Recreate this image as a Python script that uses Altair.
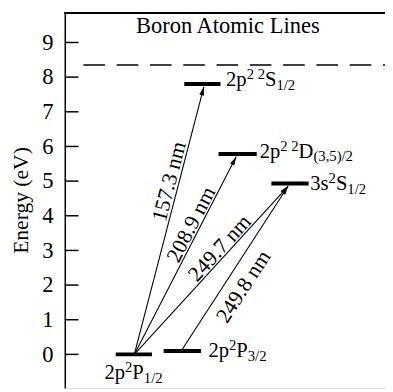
import math
import altair as alt
import pandas as pd

# ---------------- data ----------------
tick_values = [0, 1, 2, 3, 4, 5, 6, 7, 8, 9]

level_energy = [0.0, 0.10, 4.93, 5.78, 7.80]
level_x_start = [52, 101, 211, 157, 122]
level_x_end = [89, 139, 249, 196, 159]

label_main1 = ["2p", "2p", "3s", "2p", "2p"]
label_sup = ["2", "2", "2", "2 2", "2 2"]
label_main2 = ["P", "P", "S", "D", "S"]
label_sub = ["1/2", "3/2", "1/2", "(3,5)/2", "1/2"]
label_x = [40.5, 146.7, 250.7, 199.0, 164.7]
label_y = [-0.715, -0.065, 4.74, 5.68, 7.74]

transition_text = ["157.3 nm", "208.9 nm", "249.7 nm", "249.8 nm"]
trans_x0 = [71, 71, 71, 120]
trans_y0 = [0.0, 0.0, 0.0, 0.15]
trans_x1 = [142, 175, 228, 228]
trans_y1 = [7.72, 5.70, 4.85, 4.85]
trans_label_x = [106.5, 129.0, 158.0, 182.4]
trans_label_y = [4.99, 3.75, 3.07, 1.96]

ionization_energy = 8.35
dash_x_start = 19

title_text = "Boron Atomic Lines"
title_x = 166.5
title_y = 9.26

# ---------------- layout ----------------
W, H = 327, 384
X_DOM = [0, 327]
Y_DOM = [-0.97, 9.88]
XPX = W / (X_DOM[1] - X_DOM[0])
YPX = H / (Y_DOM[1] - Y_DOM[0])
FONT = "Liberation Serif"
F_MAIN = 21
F_SMALL = 15
F_TRANS = 22

# Times-like advance widths (em)
ADV = {c: 0.5 for c in "0123456789"}
ADV.update({"p": 0.5, "s": 0.389, "P": 0.556, "S": 0.556, "D": 0.722, "(": 0.333,
            ")": 0.333, ",": 0.25, "/": 0.278, " ": 0.25})


def tw(s, size):
    return sum(ADV.get(c, 0.5) for c in s) * size / XPX


xs = alt.Scale(domain=X_DOM, nice=False, zero=False)
ys = alt.Scale(domain=Y_DOM, nice=False, zero=False)
YAX = alt.Axis(
    values=tick_values, ticks=False, tickSize=0, grid=False, domain=True,
    domainColor="black", domainWidth=1.5, labelFont=FONT, labelFontSize=23,
    labelColor="black", labelPadding=12, title="Energy (eV)", titleFont=FONT,
    titleFontSize=22, titleFontWeight="normal", titleColor="black", titlePadding=10)


def Y(field):
    return alt.Y(field, scale=ys, axis=YAX)


def X(field):
    return alt.X(field, scale=xs, axis=None)


# ---------------- tables ----------------
ticks_df = pd.DataFrame({"y": tick_values})
levels_df = pd.DataFrame({"x": level_x_start, "x2": level_x_end, "y": level_energy})

pieces = []
for i in range(len(label_main1)):
    x = label_x[i]
    for txt, kind, size in [(label_main1[i], "main", F_MAIN), (label_sup[i], "sup", F_SMALL),
                            (label_main2[i], "main", F_MAIN), (label_sub[i], "sub", F_SMALL)]:
        pieces.append({"x": x, "y": label_y[i], "t": txt, "kind": kind})
        x += tw(txt, size)
pieces_df = pd.DataFrame(pieces)

trans_rows = []
for i in range(len(transition_text)):
    dxp = (trans_x1[i] - trans_x0[i]) * XPX
    dyp = (trans_y1[i] - trans_y0[i]) * YPX
    text_ang = (-math.degrees(math.atan2(dyp, dxp))) % 360
    head_ang = math.degrees(math.atan2(dxp, dyp)) % 360
    trans_rows.append({"x": trans_x0[i], "y": trans_y0[i], "x2": trans_x1[i], "y2": trans_y1[i],
                       "lx": trans_label_x[i], "ly": trans_label_y[i], "t": transition_text[i],
                       "ta": text_ang, "ha": head_ang})
trans_df = pd.DataFrame(trans_rows)

dash_df = pd.DataFrame({"x": [dash_x_start], "x2": [X_DOM[1]], "y": [ionization_energy]})
title_df = pd.DataFrame({"x": [title_x], "y": [title_y], "t": [title_text]})

# ---------------- layers ----------------
ticks = alt.Chart(ticks_df).mark_rule(color="black", strokeWidth=1.5).encode(
    x=alt.value(0), x2=alt.value(14), y=Y("y:Q"),
)

top_line = alt.Chart(ticks_df).mark_rule(color="black", strokeWidth=1.5).encode(
    x=alt.value(0), x2=alt.value(W), y=alt.value(1)
)

dash = alt.Chart(dash_df).mark_rule(color="black", strokeWidth=1.5, strokeDash=[22, 12]).encode(
    x=X("x:Q"), x2="x2:Q", y=Y("y:Q")
)

levels = alt.Chart(levels_df).mark_rule(color="black", strokeWidth=4, strokeCap="butt").encode(
    x=X("x:Q"), x2="x2:Q", y=Y("y:Q")
)

lines = alt.Chart(trans_df).mark_rule(color="black", strokeWidth=1.1).encode(
    x=X("x:Q"), x2="x2:Q", y=Y("y:Q"), y2="y2:Q",
)

heads = alt.Chart(trans_df).mark_point(
    shape="M0,0L-0.6,2.2L0.6,2.2Z", filled=True, color="black", opacity=1, size=64, strokeWidth=0
).encode(
    x=X("x2:Q"), y=Y("y2:Q"), angle=alt.Angle("ha:Q", scale=None),
)

tlabels = alt.Chart(trans_df).mark_text(
    font=FONT, fontSize=F_TRANS, color="black", align="center", baseline="middle"
).encode(
    x=X("lx:Q"), y=Y("ly:Q"), text="t:N", angle=alt.Angle("ta:Q", scale=None),
)


def piece_layer(kind, size, dy):
    return alt.Chart(pieces_df).transform_filter(alt.datum.kind == kind).mark_text(
        font=FONT, fontSize=size, color="black", align="left", baseline="alphabetic", dy=dy
    ).encode(x=X("x:Q"), y=Y("y:Q"), text="t:N")


main_txt = piece_layer("main", F_MAIN, 0)
sup_txt = piece_layer("sup", F_SMALL, -7)
sub_txt = piece_layer("sub", F_SMALL, 4)

title = alt.Chart(title_df).mark_text(
    font=FONT, fontSize=23, color="black", align="center", baseline="alphabetic"
).encode(x=X("x:Q"), y=Y("y:Q"), text="t:N")

chart = alt.layer(
    ticks, top_line, dash, levels, lines, heads, tlabels, main_txt, sup_txt, sub_txt, title
).properties(
    width=W, height=H, autosize=alt.AutoSizeParams(type="none"),
    padding={"left": 58, "top": 0, "right": 0, "bottom": 0},
).configure_view(stroke=None).configure(background="white")

chart.save("out.html", embed_options={"renderer": "svg", "actions": False})
